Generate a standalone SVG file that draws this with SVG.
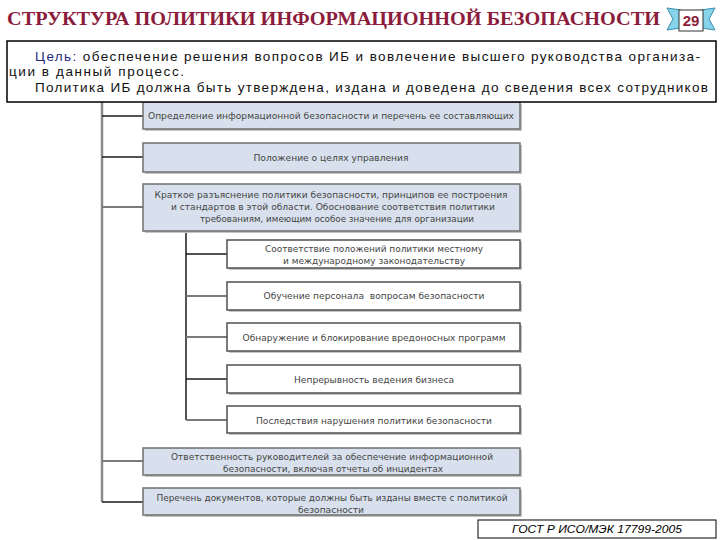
<svg xmlns="http://www.w3.org/2000/svg" width="720" height="540" viewBox="0 0 720 540">
<style>
.title{font-family:"Liberation Serif","Times New Roman",serif;font-weight:bold;font-size:18px;fill:#8c1c3c}
.body{font-family:"Liberation Sans",Arial,sans-serif;font-size:13.5px;fill:#111}
.lbl{font-family:"DejaVu Sans","Liberation Sans",sans-serif;font-size:9.5px;fill:#454545;text-anchor:middle}
.main{fill:#d7e0ec;stroke:#6f6f6f;stroke-width:1.5}
.sub{fill:#ffffff;stroke:#505050;stroke-width:1.5}
.shadow{fill:#c4c4c4}
.trunk{stroke:#8a8a8a;stroke-width:2.5;fill:none}
.conn{stroke:#1a1a1a;stroke-width:1.5;fill:none}
.connG{stroke:#7a7a7a;stroke-width:2;fill:none}
</style>
<rect width="720" height="540" fill="#ffffff"/>

<g id="title">
<text class="title" x="7" y="25" textLength="653" lengthAdjust="spacingAndGlyphs">СТРУКТУРА ПОЛИТИКИ ИНФОРМАЦИОННОЙ БЕЗОПАСНОСТИ</text>
</g>

<g id="badge">
<path d="M667,8 L681,10 L681,28 L667,30 L673,19 Z" fill="#86d3ea" stroke="#3a8fb0" stroke-width="1"/>
<path d="M715,8 L701,10 L701,28 L715,30 L709,19 Z" fill="#86d3ea" stroke="#3a8fb0" stroke-width="1"/>
<rect x="679" y="10" width="24" height="21" fill="#ffffff" stroke="#333" stroke-width="1"/>
<text x="691" y="26" text-anchor="middle" font-family="Liberation Sans,Arial,sans-serif" font-weight="bold" font-size="15" fill="#8c1c3c">29</text>
</g>

<g id="connectors">
<line class="trunk" x1="102" y1="102" x2="102" y2="502"/>
<line class="conn" x1="102" y1="116" x2="144" y2="116"/>
<line class="conn" x1="102" y1="157" x2="144" y2="157"/>
<line class="connG" x1="102" y1="207" x2="144" y2="207"/>
<line class="connG" x1="102" y1="461" x2="144" y2="461"/>
<line class="conn" x1="102" y1="502" x2="144" y2="502"/>
<line class="conn" x1="186" y1="231" x2="186" y2="420"/>
<line class="conn" x1="186" y1="254" x2="228" y2="254"/>
<line class="connG" x1="186" y1="296" x2="228" y2="296"/>
<line class="connG" x1="186" y1="337" x2="228" y2="337"/>
<line class="conn" x1="186" y1="379" x2="228" y2="379"/>
<line class="connG" x1="186" y1="420" x2="228" y2="420"/>
</g>

<g id="node1">
<rect class="shadow" x="145" y="104" width="377" height="27"/>
<rect class="main" x="143" y="102" width="377" height="27"/>
<text class="lbl" x="331" y="119" textLength="366" lengthAdjust="spacingAndGlyphs">Определение информационной безопасности и перечень ее составляющих</text>
</g>

<g id="node2">
<rect class="shadow" x="145" y="145" width="377" height="29"/>
<rect class="main" x="143" y="143" width="377" height="29"/>
<text class="lbl" x="331" y="161" textLength="155" lengthAdjust="spacingAndGlyphs">Положение о целях управления</text>
</g>

<g id="node3">
<rect class="shadow" x="145" y="186" width="377" height="47"/>
<rect class="main" x="143" y="184" width="377" height="47"/>
<text class="lbl" x="331" y="198" textLength="353" lengthAdjust="spacingAndGlyphs">Краткое разъяснение политики безопасности, принципов ее построения</text>
<text class="lbl" x="333" y="210" textLength="324" lengthAdjust="spacingAndGlyphs">и стандартов в этой области. Обоснование соответствия политики</text>
<text class="lbl" x="337" y="222" textLength="274" lengthAdjust="spacingAndGlyphs">требованиям, имеющим особое значение для организации</text>
</g>

<g id="sub1">
<rect class="shadow" x="229" y="242" width="293" height="28"/>
<rect class="sub" x="227" y="240" width="293" height="28"/>
<text class="lbl" x="374" y="252" textLength="218" lengthAdjust="spacingAndGlyphs">Соответствие положений политики местному</text>
<text class="lbl" x="374" y="264" textLength="182" lengthAdjust="spacingAndGlyphs">и международному законодательству</text>
</g>

<g id="sub2">
<rect class="shadow" x="229" y="284" width="293" height="28"/>
<rect class="sub" x="227" y="282" width="293" height="28"/>
<text class="lbl" x="374" y="299" textLength="221" lengthAdjust="spacingAndGlyphs" xml:space="preserve">Обучение персонала  вопросам безопасности</text>
</g>

<g id="sub3">
<rect class="shadow" x="229" y="325" width="293" height="28"/>
<rect class="sub" x="227" y="323" width="293" height="28"/>
<text class="lbl" x="374" y="341" textLength="263" lengthAdjust="spacingAndGlyphs">Обнаружение и блокирование вредоносных программ</text>
</g>

<g id="sub4">
<rect class="shadow" x="229" y="367" width="293" height="28"/>
<rect class="sub" x="227" y="365" width="293" height="28"/>
<text class="lbl" x="374" y="383" textLength="160" lengthAdjust="spacingAndGlyphs">Непрерывность ведения бизнеса</text>
</g>

<g id="sub5">
<rect class="shadow" x="229" y="408" width="293" height="27"/>
<rect class="sub" x="227" y="406" width="293" height="27"/>
<text class="lbl" x="374" y="424" textLength="236" lengthAdjust="spacingAndGlyphs">Последствия нарушения политики безопасности</text>
</g>

<g id="node4">
<rect class="shadow" x="145" y="450" width="377" height="27"/>
<rect class="main" x="143" y="448" width="377" height="27"/>
<text class="lbl" x="332" y="460" textLength="322" lengthAdjust="spacingAndGlyphs">Ответственность руководителей за обеспечение информационной</text>
<text class="lbl" x="333" y="472" textLength="220" lengthAdjust="spacingAndGlyphs">безопасности, включая отчеты об инцидентах</text>
</g>

<g id="node5">
<rect class="shadow" x="145" y="490" width="377" height="27"/>
<rect class="main" x="143" y="488" width="377" height="27"/>
<text class="lbl" x="332" y="501" textLength="351" lengthAdjust="spacingAndGlyphs">Перечень документов, которые должны быть изданы вместе с политикой</text>
<text class="lbl" x="331" y="513" textLength="66" lengthAdjust="spacingAndGlyphs">безопасности</text>
</g>

<g id="goal">
<rect x="7" y="41" width="709" height="61" fill="#ffffff" stroke="#000" stroke-width="1.5"/>
<text class="body" x="35" y="61" textLength="665" lengthAdjust="spacing"><tspan fill="#1f2a7a">Цель:</tspan> обеспечение решения вопросов ИБ и вовлечение высшего руководства организа-</text>
<text class="body" x="9" y="76" textLength="175" lengthAdjust="spacing">ции в данный процесс.</text>
<text class="body" x="35" y="92" textLength="673" lengthAdjust="spacing">Политика ИБ должна быть утверждена, издана и доведена до сведения всех сотрудников</text>
</g>

<g id="gost">
<rect x="478" y="520" width="238" height="18" fill="#ffffff" stroke="#000" stroke-width="1"/>
<text x="597" y="533" text-anchor="middle" font-family="Liberation Sans,Arial,sans-serif" font-style="italic" font-size="11" fill="#000" textLength="170" lengthAdjust="spacingAndGlyphs">ГОСТ Р ИСО/МЭК 17799-2005</text>
</g>
</svg>
